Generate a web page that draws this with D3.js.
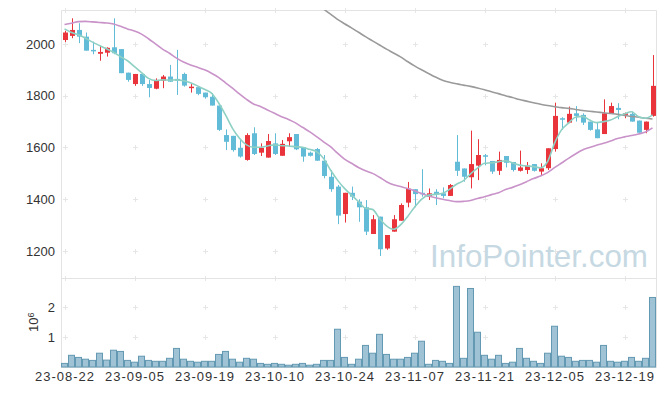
<!DOCTYPE html>
<html>
<head>
<meta charset="utf-8">
<script src="https://cdn.jsdelivr.net/npm/d3@7"></script>
<style>
  body { margin: 0; background: #fff; }
  svg { display: block; font-family: "Liberation Sans", Arial, sans-serif; }
</style>
</head>
<body>
<div id="chart"></div>
<script>
const dates = [
  '23-08-22','23-08-23','23-08-24','23-08-25','23-08-28','23-08-29','23-08-30','23-08-31',
  '23-09-01','23-09-04','23-09-05','23-09-06','23-09-07','23-09-08','23-09-11','23-09-12',
  '23-09-13','23-09-14','23-09-15','23-09-18','23-09-19','23-09-20','23-09-21','23-09-22',
  '23-09-25','23-09-26','23-09-27','23-10-04','23-10-05','23-10-06','23-10-10','23-10-11',
  '23-10-12','23-10-13','23-10-16','23-10-17','23-10-18','23-10-19','23-10-20','23-10-23',
  '23-10-24','23-10-25','23-10-26','23-10-27','23-10-30','23-10-31','23-11-01','23-11-02',
  '23-11-03','23-11-06','23-11-07','23-11-08','23-11-09','23-11-10','23-11-13','23-11-14',
  '23-11-15','23-11-16','23-11-17','23-11-20','23-11-21','23-11-22','23-11-23','23-11-24',
  '23-11-27','23-11-28','23-11-29','23-11-30','23-12-01','23-12-04','23-12-05','23-12-06',
  '23-12-07','23-12-08','23-12-11','23-12-12','23-12-13','23-12-14','23-12-15','23-12-18',
  '23-12-19','23-12-20','23-12-21','23-12-22','23-12-26'
];

const open = [2015,2031,2054,2028,1977,1962,1966,1987,1980,1889,1845,1884,1845,1827,1858,1874,
  1865,1884,1830,1833,1812,1796,1762,1648,1645,1599,1552,1655,1580,1561,1616,1568,1624,1652,
  1601,1580,1594,1549,1487,1449,1343,1425,1391,1369,1266,1333,1210,1275,1317,1387,1439,1425,
  1410,1429,1423,1413,1545,1519,1485,1530,1570,1548,1510,1567,1544,1510,1513,1536,1507,1520,
  1594,1713,1696,1732,1726,1700,1670,1652,1730,1753,1726,1730,1704,1668,1722];

const high = [2051,2099,2080,2044,2009,1992,1987,2099,1980,1889,1884,1884,1861,1867,1880,1919,
  1977,1889,1845,1833,1812,1810,1762,1670,1645,1629,1655,1678,1616,1652,1655,1629,1655,1652,
  1601,1584,1598,1571,1513,1455,1425,1449,1400,1397,1339,1333,1262,1339,1384,1467,1439,1516,
  1442,1439,1446,1459,1648,1519,1665,1632,1575,1548,1584,1567,1544,1588,1544,1536,1539,1597,
  1773,1717,1758,1760,1732,1700,1696,1786,1773,1771,1735,1739,1704,1700,1957];

const low = [2007,2022,2003,1974,1960,1935,1951,1960,1887,1854,1838,1838,1794,1825,1829,1854,
  1803,1835,1812,1802,1789,1762,1664,1590,1584,1561,1549,1571,1567,1561,1571,1568,1603,1590,
  1545,1565,1549,1481,1429,1304,1310,1397,1313,1262,1266,1181,1205,1275,1317,1369,1369,1410,
  1397,1378,1404,1413,1490,1468,1442,1474,1531,1498,1494,1523,1507,1507,1498,1507,1494,1513,
  1584,1668,1694,1700,1687,1665,1636,1652,1730,1709,1713,1700,1657,1655,1719];

const close = [2044,2054,2028,1974,1973,1969,1985,1964,1887,1861,1884,1845,1830,1861,1874,1854,
  1858,1839,1835,1807,1794,1762,1668,1622,1590,1565,1648,1575,1599,1625,1575,1614,1640,1593,
  1565,1568,1549,1490,1439,1337,1425,1410,1369,1275,1323,1207,1262,1323,1378,1441,1420,1420,
  1423,1420,1413,1455,1510,1487,1536,1571,1565,1507,1552,1541,1513,1523,1530,1510,1520,1597,
  1722,1710,1730,1722,1696,1668,1636,1732,1760,1745,1732,1700,1657,1700,1838];

const volume = [120000,390000,320000,260000,220000,460000,230000,560000,520000,220000,160000,
  360000,220000,190000,190000,290000,620000,260000,190000,160000,190000,190000,420000,520000,
  260000,160000,290000,260000,120000,90000,120000,90000,60000,90000,120000,60000,90000,220000,
  220000,1260000,320000,90000,260000,720000,460000,1090000,420000,260000,260000,320000,460000,
  860000,90000,220000,190000,120000,2690000,290000,2620000,1160000,390000,260000,390000,120000,
  160000,620000,290000,190000,120000,460000,1360000,360000,320000,190000,220000,220000,160000,
  720000,190000,160000,190000,320000,190000,290000,2320000];

const ma5 = [2058,2044,2035,2022,2007,1994,1981,1968,1951,1935,1912,1889,1867,1859,1861,1860,
  1861,1858,1850,1838,1825,1810,1773,1726,1674,1636,1610,1601,1601,1606,1610,1607,1606,1603,
  1601,1593,1584,1558,1513,1474,1442,1416,1391,1365,1361,1326,1297,1284,1301,1333,1369,1400,
  1416,1419,1423,1438,1458,1472,1498,1520,1539,1541,1545,1549,1541,1532,1529,1526,1522,1545,
  1616,1668,1694,1717,1720,1706,1696,1700,1706,1719,1730,1738,1719,1713,1726];

const ma20 = [2075,2080,2086,2087,2085,2083,2081,2077,2068,2058,2050,2038,2020,2000,1980,1964,
  1945,1930,1919,1910,1900,1887,1871,1850,1829,1807,1786,1768,1758,1745,1732,1719,1708,1695,
  1678,1661,1642,1622,1603,1578,1555,1539,1523,1510,1500,1485,1468,1456,1449,1442,1433,1422,
  1413,1406,1400,1395,1391,1392,1395,1403,1410,1418,1425,1438,1446,1456,1468,1480,1490,1503,
  1522,1540,1558,1575,1590,1600,1609,1616,1625,1635,1641,1646,1652,1660,1676];

const ma60 = [null,null,null,null,null,null,null,null,null,null,null,null,null,null,null,null,
  null,null,null,null,null,null,null,null,null,null,null,null,null,null,null,null,null,null,
  null,null,2155,2135,2115,2095,2078,2062,2045,2028,2012,1996,1980,1965,1950,1932,1915,1900,
  1886,1872,1860,1852,1846,1841,1836,1830,1823,1815,1808,1800,1793,1785,1779,1773,1767,1762,
  1758,1754,1751,1747,1743,1740,1737,1734,1731,1728,1724,1720,1717,1713,1710];

const tickLabels = ['23-08-22','23-09-05','23-09-19','23-10-10','23-10-24','23-11-07','23-11-21','23-12-05','23-12-19'];
const priceTicks = [1200, 1400, 1600, 1800, 2000];
const volumeTicks = [1e6, 2e6];

const width = 665, height = 396;
const mLeft = 61, mRight = 656, mTop = 10, mMid = 278, mBottom = 367;

const svg = d3.select('#chart').append('svg')
  .attr('width', width)
  .attr('height', height);

const x = d3.scaleBand().domain(dates).range([mLeft, mRight]);
const cx = d => x(d) + x.bandwidth() / 2;
const y = d3.scaleLinear().domain([1096, 2131]).range([mMid, mTop]);
const yv = d3.scaleLinear().domain([0, 2.97e6]).range([mBottom, mMid]);

svg.append('clipPath').attr('id', 'clip-price')
  .append('rect').attr('x', mLeft).attr('y', mTop).attr('width', mRight - mLeft).attr('height', mMid - mTop);

// grid crosses (very faint)
const crosses = svg.append('g').attr('stroke', '#e6e6e6').attr('stroke-width', 1);
const cross = (px, py) => {
  crosses.append('path').attr('d', `M${px - 2.5},${py}H${px + 2.5}M${px},${py - 2.5}V${py + 2.5}`);
};
tickLabels.forEach(t => {
  const px = Math.round(cx(t)) + 0.5;
  priceTicks.forEach(v => cross(px, Math.round(y(v)) + 0.5));
  volumeTicks.forEach(v => cross(px, Math.round(yv(v)) + 0.5));
  cross(px, mTop + 0.5);
  cross(px, mMid + 0.5);
});

// frame
const frame = svg.append('g').attr('stroke', '#e3e3e3').attr('fill', 'none');
frame.append('path').attr('d', `M${mLeft + 0.5},${mTop + 0.5}H${mRight + 0.5}V${mBottom + 0.5}H${mLeft + 0.5}Z`);
frame.append('path').attr('d', `M${mLeft + 0.5},${mMid + 0.5}H${mRight + 0.5}`);

// volume
svg.append('g').selectAll('rect')
  .data(dates)
  .join('rect')
  .attr('x', d => x(d) + 0.5)
  .attr('width', x.bandwidth() - 1)
  .attr('y', (d, i) => yv(volume[i]))
  .attr('height', (d, i) => yv(0) - yv(volume[i]))
  .attr('fill', '#9fc3d4')
  .attr('stroke', '#6399b2')
  .attr('stroke-width', 1);

// watermark
svg.append('text')
  .attr('x', 430).attr('y', 267)
  .attr('font-size', 32)
  .attr('textLength', 218)
  .attr('lengthAdjust', 'spacingAndGlyphs')
  .attr('fill', '#c6d9e3')
  .text('InfoPointer.com');

// candles
const candles = svg.append('g').attr('clip-path', 'url(#clip-price)');
const col = i => close[i] >= open[i] ? '#e9343c' : '#63bcd7';
candles.selectAll('line')
  .data(dates)
  .join('line')
  .attr('x1', d => Math.round(cx(d)) + 0.5)
  .attr('x2', d => Math.round(cx(d)) + 0.5)
  .attr('y1', (d, i) => y(high[i]))
  .attr('y2', (d, i) => y(low[i]))
  .attr('stroke', (d, i) => col(i))
  .attr('stroke-width', 1);
candles.selectAll('rect')
  .data(dates)
  .join('rect')
  .attr('x', d => Math.round(cx(d)) - 2)
  .attr('width', 5)
  .attr('y', (d, i) => y(Math.max(open[i], close[i])))
  .attr('height', (d, i) => Math.max(1.5, Math.abs(y(open[i]) - y(close[i]))))
  .attr('fill', (d, i) => col(i));

// moving averages
const lines = svg.append('g').attr('clip-path', 'url(#clip-price)').attr('fill', 'none');
const line = d3.line()
  .defined(d => d.v !== null)
  .x(d => cx(d.d))
  .y(d => y(d.v))
  .curve(d3.curveMonotoneX);
[[ma60, '#9a9a9a'], [ma20, '#c993c9'], [ma5, '#8fd0c4']].forEach(([arr, c]) => {
  lines.append('path')
    .datum(dates.map((d, i) => ({d, v: arr[i]})))
    .attr('d', line)
    .attr('stroke', c)
    .attr('stroke-width', 1.6);
});

// axes
const axisStyle = g => {
  g.select('.domain').remove();
  g.selectAll('.tick line').remove();
  g.selectAll('text').attr('font-size', 13).attr('fill', '#333')
    .attr('font-family', '"Liberation Sans", Arial, sans-serif');
};

svg.append('g')
  .attr('transform', `translate(${mLeft},0)`)
  .call(d3.axisLeft(y).tickValues(priceTicks).tickFormat(d3.format('d')).tickSize(0).tickPadding(6))
  .call(axisStyle);

svg.append('g')
  .attr('transform', `translate(${mLeft},0)`)
  .call(d3.axisLeft(yv).tickValues(volumeTicks).tickFormat(v => v / 1e6).tickSize(0).tickPadding(6))
  .call(axisStyle);

svg.append('g')
  .attr('transform', `translate(0,${mBottom})`)
  .call(d3.axisBottom(x).tickValues(tickLabels).tickSize(0).tickPadding(5))
  .call(axisStyle)
  .selectAll('text')
  .attr('textLength', 59)
  .attr('lengthAdjust', 'spacing');

const unit = svg.append('text')
  .attr('transform', 'translate(37.5,332) rotate(-90)')
  .attr('font-size', 13)
  .attr('fill', '#333');
unit.append('tspan').text('10');
unit.append('tspan').attr('dy', -4).attr('font-size', 9).text('6');
</script>
</body>
</html>
